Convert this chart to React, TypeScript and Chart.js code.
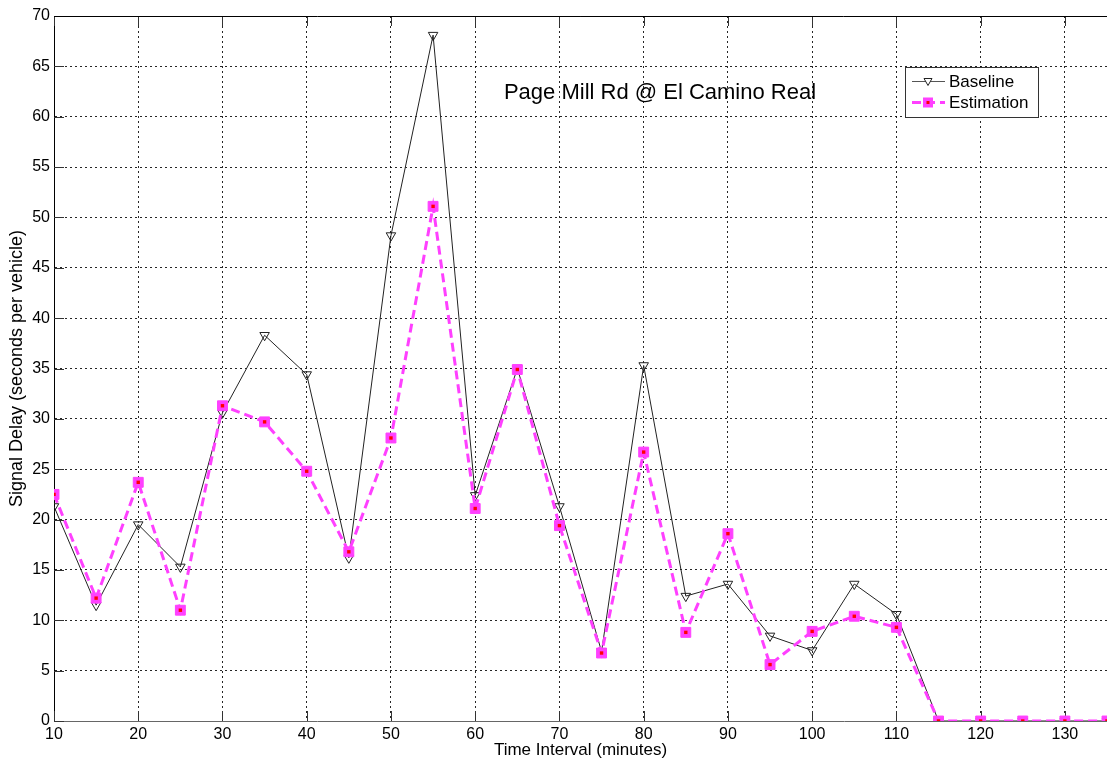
import React, { useEffect, useRef } from "react";
import { Chart, registerables } from "chart.js";

Chart.register(...registerables);

const timeMinutes = [10, 15, 20, 25, 30, 35, 40, 45, 50, 55, 60, 65, 70, 75, 80, 85, 90, 95, 100, 105, 110, 115, 120, 125, 130, 135];
const baselineDelay = [21.3, 11.5, 19.5, 15.3, 30.6, 38.3, 34.4, 16.2, 48.2, 68.1, 22.4, 35.0, 21.3, 6.9, 35.3, 12.4, 13.6, 8.45, 7.0, 13.6, 10.6, 0, 0, 0, 0, 0];
const estimationDelay = [22.5, 12.2, 23.7, 11.0, 31.3, 29.7, 24.8, 16.8, 28.1, 51.1, 21.1, 34.9, 19.4, 6.75, 26.7, 8.8, 18.6, 5.6, 8.9, 10.4, 9.3, 0, 0, 0, 0, 0];
const xTickValues = [10, 20, 30, 40, 50, 60, 70, 80, 90, 100, 110, 120, 130];
const chartTitle = "Page Mill Rd @ El Camino Real";
const xAxisTitle = "Time Interval (minutes)";
const yAxisTitle = "Signal Delay (seconds per vehicle)";
const legendLabels = ["Baseline", "Estimation"];

const FONT = '"Liberation Sans", Arial, sans-serif';
const MAGENTA = "#ff40ff";

const decorPlugin = {
  id: "decor",
  beforeDatasetsDraw(chart: any) {
    const { ctx, chartArea, scales } = chart;
    const { left, right, top, bottom } = chartArea;
    ctx.save();
    ctx.strokeStyle = "#333";
    ctx.lineWidth = 1;
    ctx.setLineDash([]);
    // inner ticks
    scales.y.ticks.forEach((t: any) => {
      const y = Math.round(scales.y.getPixelForValue(t.value)) + 0.5;
      ctx.beginPath();
      ctx.moveTo(left, y);
      ctx.lineTo(left + 10, y);
      ctx.stroke();
    });
    scales.x.ticks.forEach((t: any) => {
      const x = Math.round(scales.x.getPixelForValue(t.value)) + 0.5;
      ctx.beginPath();
      ctx.moveTo(x, bottom);
      ctx.lineTo(x, bottom - 10);
      ctx.moveTo(x, top);
      ctx.lineTo(x, top + 10);
      ctx.stroke();
    });
    // top border
    ctx.strokeStyle = "#000";
    ctx.beginPath();
    ctx.moveTo(left, Math.round(top) + 0.5);
    ctx.lineTo(right, Math.round(top) + 0.5);
    ctx.stroke();
    ctx.restore();
  },
  afterDraw(chart: any) {
    const { ctx } = chart;
    ctx.save();
    // title
    ctx.fillStyle = "#000";
    ctx.font = `22px ${FONT}`;
    ctx.textAlign = "center";
    ctx.textBaseline = "alphabetic";
    ctx.fillText(chartTitle, 660, 99);

    // legend box
    const bx = 905.5, by = 67.5, bw = 133, bh = 50;
    ctx.fillStyle = "#fff";
    ctx.fillRect(bx, by, bw, bh);
    ctx.strokeStyle = "#333";
    ctx.lineWidth = 1;
    ctx.strokeRect(bx, by, bw, bh);

    // entry 1
    const y1 = 81.5;
    ctx.strokeStyle = "#555";
    ctx.beginPath();
    ctx.moveTo(912, y1);
    ctx.lineTo(945, y1);
    ctx.stroke();
    ctx.fillStyle = "#fff";
    ctx.strokeStyle = "#222";
    ctx.beginPath();
    ctx.moveTo(924, y1 - 3);
    ctx.lineTo(932, y1 - 3);
    ctx.lineTo(928, y1 + 4);
    ctx.closePath();
    ctx.fill();
    ctx.stroke();

    // entry 2
    const y2 = 102.5;
    ctx.strokeStyle = MAGENTA;
    ctx.lineWidth = 3;
    ctx.setLineDash([9, 5]);
    ctx.beginPath();
    ctx.moveTo(912, y2);
    ctx.lineTo(945, y2);
    ctx.stroke();
    ctx.setLineDash([]);
    ctx.fillStyle = MAGENTA;
    ctx.fillRect(923, y2 - 5, 10, 10);
    ctx.fillStyle = "#ff0000";
    ctx.fillRect(926.5, y2 - 1.5, 3, 3);

    ctx.fillStyle = "#000";
    ctx.font = `17px ${FONT}`;
    ctx.textAlign = "left";
    ctx.textBaseline = "middle";
    ctx.fillText(legendLabels[0], 949, y1 + 1);
    ctx.fillText(legendLabels[1], 949, y2 + 1);
    ctx.restore();
  },
};

export default function App() {
  const canvasRef = useRef<HTMLCanvasElement | null>(null);

  useEffect(() => {
    const canvas = canvasRef.current;
    if (!canvas) return;
    const chart = new Chart(canvas, {
      type: "line",
      data: {
        labels: timeMinutes,
        datasets: [
          {
            label: "centers",
            data: timeMinutes.map((t, i) => ({ x: t, y: estimationDelay[i] })),
            showLine: false,
            pointStyle: "rect",
            pointRadius: 2.4,
            pointBackgroundColor: "#ff0000",
            pointBorderWidth: 0,
            borderColor: "#ff0000",
            order: 0,
          },
          {
            label: legendLabels[1],
            data: timeMinutes.map((t, i) => ({ x: t, y: estimationDelay[i] })),
            borderColor: MAGENTA,
            borderWidth: 3,
            borderDash: [9, 5],
            pointStyle: "rect",
            pointRadius: 7,
            pointBackgroundColor: MAGENTA,
            pointBorderColor: MAGENTA,
            pointBorderWidth: 1,
            tension: 0,
            order: 1,
          },
          {
            label: legendLabels[0],
            data: timeMinutes.map((t, i) => ({ x: t, y: baselineDelay[i] })),
            borderColor: "#222",
            borderWidth: 1,
            pointStyle: "triangle",
            rotation: 180,
            pointRadius: 5.5,
            pointBackgroundColor: "rgba(255,255,255,0)",
            pointBorderColor: "#222",
            pointBorderWidth: 1,
            tension: 0,
            order: 2,
          },
        ],
      },
      options: {
        animation: false,
        responsive: false,
        layout: { autoPadding: false, padding: { top: 16, right: 0, left: 0, bottom: 0 } },
        plugins: {
          legend: { display: false },
          title: { display: false },
          tooltip: { enabled: false },
        },
        scales: {
          x: {
            type: "linear",
            min: 10,
            max: 135,
            afterBuildTicks: (scale: any) => {
              scale.ticks = xTickValues.map((v) => ({ value: v }));
            },
            afterFit: (scale: any) => {
              scale.height = 42;
              scale.paddingLeft = 0;
              scale.paddingRight = 0;
            },
            grid: { color: "rgba(0,0,0,0.85)", lineWidth: 1, drawTicks: false },
            border: { display: true, color: "#666", width: 1, dash: [2, 3] },
            ticks: {
              autoSkip: false,
              maxRotation: 0,
              padding: 4,
              color: "#000",
              font: { family: FONT, size: 16 },
            },
            title: {
              display: true,
              text: xAxisTitle,
              color: "#000",
              font: { family: FONT, size: 17 },
              padding: { top: 0, bottom: 2 },
            },
          },
          y: {
            type: "linear",
            min: 0,
            max: 70,
            afterFit: (scale: any) => {
              scale.width = 54;
              scale.paddingTop = 0;
              scale.paddingBottom = 0;
            },
            grid: { color: "rgba(0,0,0,0.85)", lineWidth: 1, drawTicks: false },
            border: { display: true, color: "#000", width: 1, dash: [2, 3] },
            ticks: {
              stepSize: 5,
              padding: 4,
              color: "#000",
              font: { family: FONT, size: 16 },
            },
            title: {
              display: true,
              text: yAxisTitle,
              color: "#000",
              font: { family: FONT, size: 18 },
              padding: { top: 6, bottom: 0 },
            },
          },
        },
      },
      plugins: [decorPlugin],
    } as any);
    return () => chart.destroy();
  }, []);

  return (
    <div style={{ position: "fixed", left: 0, top: 0, width: 1107, height: 763, background: "#fff" }}>
      <canvas ref={canvasRef} width={1107} height={763} style={{ display: "block", width: 1107, height: 763 }} />
    </div>
  );
}
